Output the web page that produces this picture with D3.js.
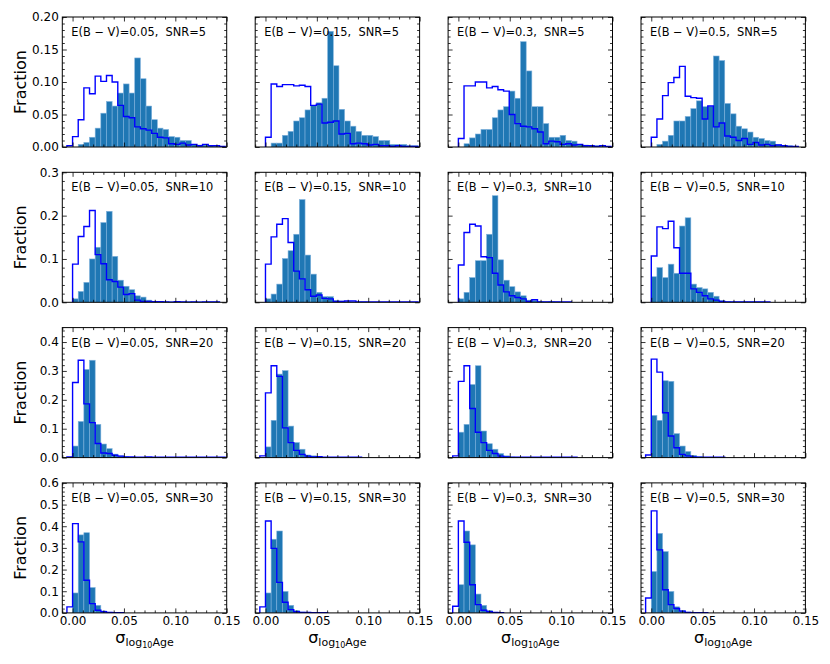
<!doctype html>
<html>
<head>
<meta charset="utf-8">
<script src="https://d3js.org/d3.v7.min.js"></script>
<style>
  body { margin: 0; background: #fff; }
  text { font-family: "DejaVu Sans", sans-serif; }
</style>
</head>
<body>
<script>
// ---------- data ----------
const ebvValues = ["0.05", "0.15", "0.3", "0.5"];
const snrValues = [5, 10, 20, 30];
const binWidth  = 0.0055;

const xTicks      = [0, 0.05, 0.10, 0.15];
const yMaxByRow   = [0.2, 0.3, 0.45, 0.6];
const yTicksByRow = [
  [0, 0.05, 0.10, 0.15, 0.20],
  [0, 0.1, 0.2, 0.3],
  [0, 0.1, 0.2, 0.3, 0.4],
  [0, 0.1, 0.2, 0.3, 0.4, 0.5, 0.6]
];
const yMinorStep  = [0.01, 0.02, 0.02, 0.02];
const yTickFormat = [".2f", ".1f", ".1f", ".1f"];

// left edge of the first bin, per row (SNR) and column (E(B-V))
const filledStart = [
  [0.0055, 0.0055, 0.0055, 0.0055],
  [0, 0, 0, 0],
  [0, 0, 0, 0],
  [0, 0, 0, 0]
];
const stepStart = [
  [-0.0055, 0, 0, 0],
  [0, 0, 0, 0],
  [-0.0055, -0.0055, -0.0055, -0.0055],
  [-0.0055, -0.0055, -0.0055, -0.0055]
];

// filled histograms (fraction per bin)
const filledSNR5 = [
  [0.004,0.007,0.015,0.029,0.052,0.070,0.063,0.083,0.097,0.083,0.137,0.105,0.063,0.042,0.029,0.027,0.016,0.015,0.010,0.010,0.004,0.003,0.003,0.002,0.001,0.001],
  [0.006,0.006,0.018,0.024,0.040,0.045,0.057,0.064,0.068,0.075,0.178,0.125,0.058,0.040,0.032,0.024,0.018,0.018,0.016,0.010,0.010,0.004,0.004,0.004,0.002,0.002],
  [0.005,0.014,0.020,0.027,0.027,0.045,0.057,0.062,0.086,0.075,0.162,0.117,0.062,0.062,0.036,0.015,0.015,0.018,0.010,0.009,0.004,0.003,0.002,0.002,0.001],
  [0.004,0.009,0.018,0.040,0.040,0.047,0.059,0.071,0.062,0.062,0.140,0.133,0.067,0.051,0.032,0.028,0.023,0.015,0.013,0.010,0.009,0.004,0.002,0.002,0.001]
];
const filledSNR10 = [
  [0.008,0.025,0.046,0.100,0.127,0.184,0.210,0.106,0.051,0.037,0.029,0.015,0.012,0.005,0.002,0.0015,0.001,0.001,0.001,0.001,0.0015,0.001,0.001,0.001,0.001,0.001],
  [0.008,0.019,0.042,0.101,0.119,0.157,0.237,0.109,0.065,0.023,0.013,0.013,0.004,0.003,0.002,0.001,0.001,0.001],
  [0.008,0.023,0.057,0.096,0.096,0.157,0.246,0.098,0.051,0.036,0.024,0.015,0.005,0.004,0.002,0.001,0.002,0.001],
  [0.059,0.080,0.057,0.088,0.067,0.176,0.195,0.042,0.034,0.031,0.023,0.014,0.004,0.002,0.001,0.001,0.001,0.001,0.001,0.001]
];
const filledSNR20 = [
  [0.040,0.125,0.305,0.337,0.115,0.047,0.031,0.012,0.006,0.003,0.001,0.001,0.001,0.001,0.001,0.001],
  [0.037,0.129,0.289,0.301,0.109,0.052,0.029,0.009,0.006,0.002,0.001,0.001,0.001],
  [0.088,0.115,0.253,0.318,0.092,0.048,0.029,0.014,0.006,0.002,0.001,0.001,0.001,0.001,0.001,0.001,0.001,0.001,0.001],
  [0.146,0.129,0.266,0.264,0.083,0.040,0.021,0.008,0.003,0.001,0.001,0.001,0.001]
];
const filledSNR30 = [
  [0.092,0.360,0.370,0.117,0.035,0.009,0.003,0.001,0.001],
  [0.092,0.340,0.378,0.099,0.035,0.011,0.004,0.002,0.001],
  [0.130,0.378,0.314,0.087,0.035,0.012,0.003,0.001],
  [0.191,0.367,0.283,0.099,0.028,0.012,0.004,0.002,0.001]
];

// step (outline) histograms
const stepSNR5 = [
  [0.002,0.016,0.042,0.091,0.082,0.109,0.101,0.110,0.100,0.064,0.047,0.045,0.031,0.028,0.026,0.021,0.015,0.014,0.005,0.004,0.006,0.003,0.004,0.002,0.004,0.002,0.002,0.001],
  [0.015,0.097,0.093,0.096,0.096,0.094,0.095,0.093,0.064,0.066,0.037,0.038,0.040,0.020,0.021,0.005,0.006,0.005,0.003,0.004,0.002,0.002,0.001,0.002,0.001,0.001,0.001],
  [0.013,0.094,0.094,0.100,0.100,0.091,0.093,0.088,0.086,0.050,0.036,0.032,0.031,0.028,0.023,0.005,0.009,0.008,0.004,0.005,0.003,0.004,0.002,0.002,0.001,0.002,0.001],
  [0.015,0.043,0.079,0.099,0.107,0.124,0.078,0.076,0.075,0.043,0.063,0.031,0.037,0.017,0.015,0.010,0.013,0.004,0.007,0.003,0.004,0.002,0.003,0.002,0.001,0.001]
];
const stepSNR10 = [
  [0.088,0.152,0.175,0.212,0.110,0.089,0.052,0.048,0.035,0.018,0.020,0.005,0.002,0.002,0.0015,0.0015,0.001,0,0.0015,0.001,0,0.001,0,0.001,0.001,0.001],
  [0.088,0.151,0.180,0.193,0.138,0.072,0.054,0.029,0.014,0.017,0.009,0.008,0.002,0.002,0.003,0.003,0.001,0.001,0.001,0.001,0.001,0.001,0.001,0.001,0.001,0.001,0.001],
  [0.086,0.161,0.180,0.176,0.105,0.103,0.067,0.040,0.024,0.015,0.011,0.008,0.002,0.006,0.001,0.001,0.001,0.001,0.001,0.001],
  [0.107,0.174,0.170,0.187,0.126,0.067,0.067,0.031,0.023,0.015,0.008,0.005,0.002,0.001,0.001,0.001,0.001,0.001,0.001,0.001,0.001]
];
const stepSNR20 = [
  [0.002,0.260,0.337,0.186,0.121,0.049,0.016,0.014,0.008,0.005,0.002,0.002,0.001,0.001,0.002,0.001,0.001,0.001,0.001,0.001,0.001,0.001,0.001,0.001,0.001,0.001,0.001,0.001],
  [0.006,0.224,0.318,0.281,0.103,0.052,0.025,0.011,0.005,0.002,0.003,0.001,0.001,0.001,0.001,0.001,0.001,0.001],
  [0.006,0.264,0.318,0.170,0.088,0.052,0.025,0.014,0.005,0.002,0.001,0.001,0.001,0.001,0.001,0.001,0.001,0.001,0.001,0.001,0.001,0.001],
  [0.009,0.341,0.296,0.155,0.075,0.034,0.011,0.006,0.002,0.001,0.001,0.001,0.001,0.001]
];
const stepSNR30 = [
  [0.028,0.412,0.328,0.151,0.043,0.012,0.005,0.002,0.001,0.001],
  [0.028,0.424,0.298,0.141,0.049,0.015,0.005,0.002,0.002,0.001,0.001,0.001],
  [0.031,0.424,0.326,0.130,0.038,0.012,0.005,0.002,0.001],
  [0.069,0.471,0.291,0.107,0.038,0.020,0.008,0.002,0.001,0.001,0.001]
];

const filledRows = [filledSNR5, filledSNR10, filledSNR20, filledSNR30];
const stepRows   = [stepSNR5, stepSNR10, stepSNR20, stepSNR30];

// ---------- layout ----------
const width = 830, height = 664;
const W = 164.4, H = 130;
const colX = c => 62.3 + c * 192.9;
const rowY = r => 17 + r * 155.3;

const x = d3.scaleLinear().domain([-0.01, 0.15]).range([0, W]);
const xMinor = d3.range(-1, 16).map(d => d / 100)
  .filter(v => !xTicks.some(t => Math.abs(t - v) < 1e-9));

const svg = d3.select("body").append("svg")
  .attr("width", width)
  .attr("height", height);

function addTicks(g, axisFn, scale, values, size, fmt, transform) {
  const a = g.append("g")
    .attr("transform", transform)
    .call(axisFn(scale).tickValues(values).tickSizeInner(-size).tickSizeOuter(0)
      .tickPadding(3.5).tickFormat(fmt));
  a.select(".domain").remove();
  a.attr("font-size", 12).attr("font-family", "DejaVu Sans");
  a.selectAll("line").attr("stroke", "#000").attr("stroke-width", 0.8);
  a.selectAll("text").attr("fill", "#000");
  return a;
}

snrValues.forEach((snr, r) => {
  const y = d3.scaleLinear().domain([0, yMaxByRow[r]]).range([H, 0]);
  const yMajor = yTicksByRow[r];
  const yMinor = d3.range(0, yMaxByRow[r] + 1e-9, yMinorStep[r])
    .map(v => Math.round(v * 1000) / 1000)
    .filter(v => !yMajor.some(t => Math.abs(t - v) < 1e-9));

  ebvValues.forEach((ebv, c) => {
    const g = svg.append("g").attr("transform", `translate(${colX(c)},${rowY(r)})`);
    const clipId = `clip-${r}-${c}`;
    g.append("clipPath").attr("id", clipId)
      .append("rect").attr("width", W).attr("height", H);
    const plot = g.append("g").attr("clip-path", `url(#${clipId})`);

    // filled histogram
    const f0 = filledStart[r][c];
    const bins = filledRows[r][c].map((v, i) => ({ x0: f0 + i * binWidth, x1: f0 + (i + 1) * binWidth, v }));
    plot.selectAll("rect.bar")
      .data(bins.filter(b => b.v > 0))
      .join("rect")
        .attr("class", "bar")
        .attr("x", d => x(d.x0))
        .attr("width", d => x(d.x1) - x(d.x0))
        .attr("y", d => y(d.v))
        .attr("height", d => H - y(d.v))
        .attr("fill", "#1f77b4")
        .attr("stroke", "#7fb1dc")
        .attr("stroke-width", 0.6);

    // step outline histogram
    const s0 = stepStart[r][c];
    const sv = stepRows[r][c];
    const pts = [[s0, 0]];
    sv.forEach((v, i) => {
      pts.push([s0 + i * binWidth, v]);
      pts.push([s0 + (i + 1) * binWidth, v]);
    });
    pts.push([s0 + sv.length * binWidth, 0]);
    plot.append("path")
      .attr("d", d3.line().x(d => x(d[0])).y(d => y(d[1]))(pts))
      .attr("fill", "none")
      .attr("stroke", "#0000ff")
      .attr("stroke-width", 1.4);

    // frame
    g.append("rect")
      .attr("width", W).attr("height", H)
      .attr("fill", "none").attr("stroke", "#000").attr("stroke-width", 1);

    // ticks, all pointing in
    const showX = r === snrValues.length - 1;
    const showY = c === 0;
    addTicks(g, d3.axisBottom, x, xTicks, 4.5, showX ? d3.format(".2f") : () => "", `translate(0,${H})`);
    addTicks(g, d3.axisBottom, x, xMinor, 2.5, () => "", `translate(0,${H})`);
    addTicks(g, d3.axisTop, x, xTicks, 4.5, () => "", "translate(0,0)");
    addTicks(g, d3.axisTop, x, xMinor, 2.5, () => "", "translate(0,0)");
    addTicks(g, d3.axisLeft, y, yMajor, 4.5, showY ? d3.format(yTickFormat[r]) : () => "", "translate(0,0)");
    addTicks(g, d3.axisLeft, y, yMinor, 2.5, () => "", "translate(0,0)");
    addTicks(g, d3.axisRight, y, yMajor, 4.5, () => "", `translate(${W},0)`);
    addTicks(g, d3.axisRight, y, yMinor, 2.5, () => "", `translate(${W},0)`);

    // panel label
    g.append("text")
      .attr("x", 9).attr("y", 19)
      .attr("font-size", 11.4)
      .attr("fill", "#000")
      .style("white-space", "pre")
      .text(`E(B \u2212 V)=${ebv},  SNR=${snr}`);

    if (showX) {
      const xl = g.append("text")
        .attr("x", W / 2).attr("y", H + 30)
        .attr("text-anchor", "middle")
        .attr("fill", "#000");
      xl.append("tspan").attr("font-size", 16).text("\u03c3");
      xl.append("tspan").attr("font-size", 11).attr("dy", 3.5).text("log");
      xl.append("tspan").attr("font-size", 8).attr("dy", 2).text("10");
      xl.append("tspan").attr("font-size", 11).attr("dy", -2).text("Age");
    }
  });

  // row y label
  svg.append("text")
    .attr("transform", `translate(25.5,${rowY(r) + H / 2}) rotate(-90)`)
    .attr("text-anchor", "middle")
    .attr("font-size", 16)
    .attr("fill", "#000")
    .text("Fraction");
});
</script>
</body>
</html>
